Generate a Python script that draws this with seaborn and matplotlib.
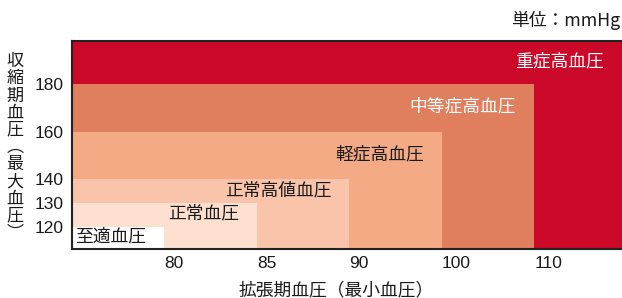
import matplotlib
matplotlib.use("Agg")
import matplotlib.pyplot as plt
import seaborn as sns

# blood pressure classes, from the smallest (inner) region to the largest
categories = ["至適血圧", "正常血圧", "正常高値血圧", "軽症高血圧", "中等症高血圧", "重症高血圧"]
systolic_upper = [120, 130, 140, 160, 180]      # top edge of each region (mmHg)
diastolic_upper = [80, 85, 90, 100, 110]        # right edge of each region (mmHg)
colors = ["#FFFFFF", "#FDDFCF", "#F9C4A9", "#F5AA86", "#DF7F5E", "#CB0828"]
text_colors = ["#1a1a1a", "#1a1a1a", "#1a1a1a", "#1a1a1a", "#FFFFFF", "#FFFFFF"]
y_ticks = [120, 130, 140, 160, 180]

sns.set_theme(style="white")
jp = ["Noto Sans CJK JP", "DejaVu Sans"]
num = ["Liberation Sans", "DejaVu Sans"]

fig = plt.figure(figsize=(6.22, 2.98), dpi=100)
ax = fig.add_axes([72 / 622, 1 - 249 / 298, 1 - 72 / 622, 208 / 298])

y_min, y_max = 110.7, 198.3
# x axis is ordinal: each diastolic threshold gets one step
x_max = len(diastolic_upper) + 0.95

# draw from the outer (largest) region inwards
for i in range(len(categories) - 1, -1, -1):
    right = i + 1 if i < len(diastolic_upper) else x_max
    top = systolic_upper[i] if i < len(systolic_upper) else y_max
    ax.bar(0, top - y_min, width=right, bottom=y_min, align="edge",
           color=colors[i], edgecolor="none", zorder=1)
    # label sits between this region's top and the next smaller region's top
    lower = systolic_upper[i - 1] if i > 0 else y_min
    ax.annotate(categories[i], xy=(right, (top + lower) / 2), xytext=(-13, 1),
                textcoords="offset points", ha="right", va="center",
                fontsize=12.8, family=jp, color=text_colors[i], zorder=3)

ax.set_xlim(0, x_max)
ax.set_ylim(y_min, y_max)

ax.set_xticks(range(1, len(diastolic_upper) + 1))
ax.set_xticklabels([str(v) for v in diastolic_upper], ha="left")
ax.set_yticks(y_ticks)
ax.set_yticklabels([str(v) for v in y_ticks])
ax.tick_params(axis="both", length=0, labelsize=12.5, pad=6, colors="#1a1a1a")
for lab in ax.get_xticklabels() + ax.get_yticklabels():
    lab.set_family(num)
ax.tick_params(axis="x", pad=5)

for side in ["left", "bottom", "top"]:
    ax.spines[side].set_visible(True)
    ax.spines[side].set_color("#222222")
    ax.spines[side].set_linewidth(1.5)
    ax.spines[side].set_zorder(5)
ax.spines["right"].set_visible(False)
ax.grid(False)

fig.text(336 / 622, 1 - 290 / 298, "拡張期血圧（最小血圧）", ha="center", va="center",
         fontsize=12.8, family=jp, color="#1a1a1a")

# vertical y label, one character per line (vertical-form parentheses)
ylabel = "収縮期血圧︵最大血圧︶"
for k, ch in enumerate(ylabel):
    fig.text(15 / 622, 1 - (61 + k * 17.2) / 298, ch, ha="center", va="center",
             fontsize=12.3, family=jp, color="#1a1a1a")

fig.text(620 / 622, 1 - 20 / 298, "単位：mmHg", ha="right", va="center",
         fontsize=12.8, family=jp, color="#1a1a1a")

fig.savefig("out.png", dpi=100)
